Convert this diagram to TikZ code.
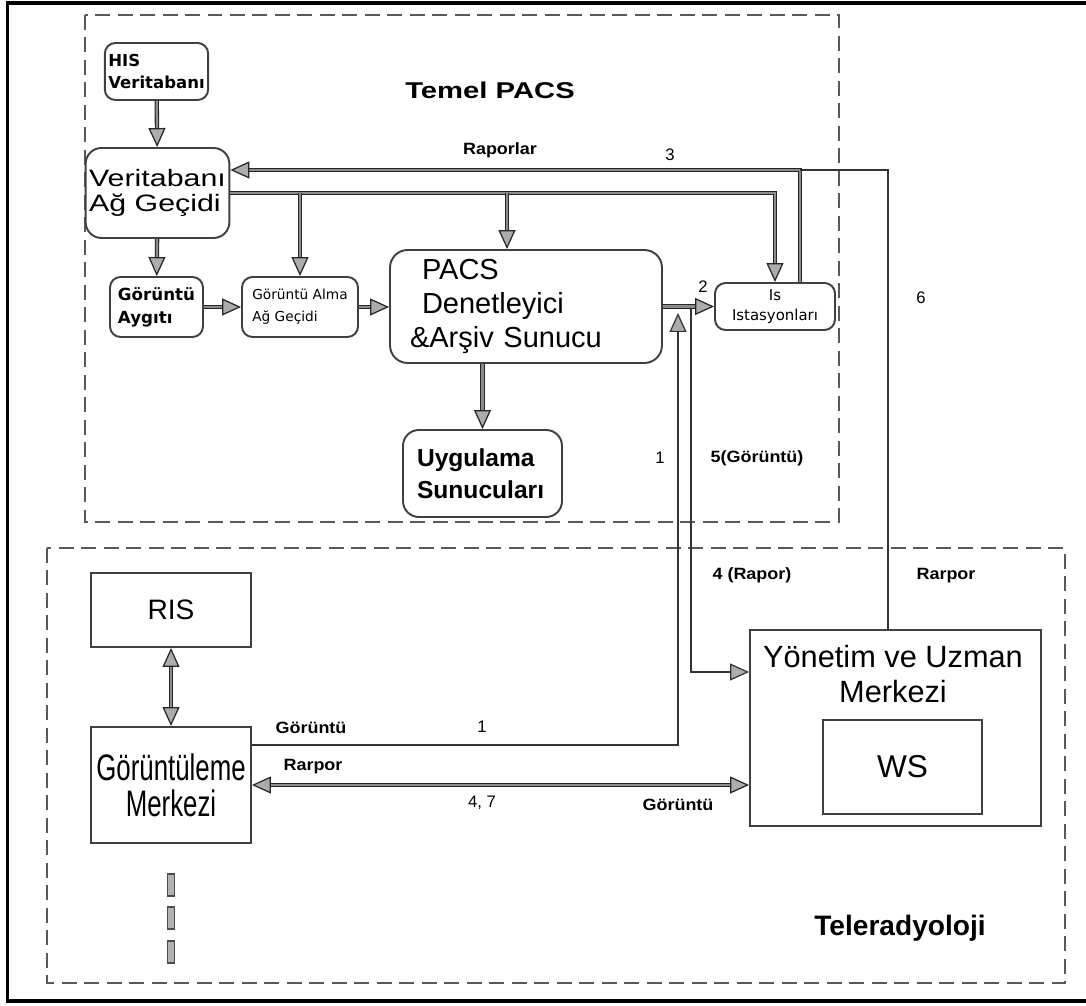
\documentclass[tikz,border=0pt]{standalone}
\usepackage{fontspec}
\setmainfont{Liberation Sans}
\newfontfamily\verdfont{DejaVu Sans}
\newfontfamily\widefont{Liberation Sans}[FakeStretch=1.28]
\newfontfamily\narrowfont{Liberation Sans}[FakeStretch=0.7]
\newfontfamily\labelfont{Liberation Sans}[FakeStretch=1.1]
\usetikzlibrary{
    positioning,
    arrows.meta,
    calc,
}
\tikzset{
    % Box styles
    rbox/.style={rectangle, draw=black!75, line width=1.1pt, rounded corners=6pt, inner sep=2pt},
    sbox/.style={rectangle, draw=black!75, line width=1.1pt, inner sep=2pt},
    % Line styles
    pipe/.style={-{Triangle[length=0.38cm, width=0.34cm, line width=0.7pt, fill=gray!65]},
                 draw=black!85, line width=0.6pt, double=black!45, double distance=0.045cm},
    both pipe/.style={pipe, {Triangle[length=0.38cm, width=0.34cm, line width=0.7pt, fill=gray!65]}-{Triangle[length=0.38cm, width=0.34cm, line width=0.7pt, fill=gray!65]}},
    wire/.style={draw=black!80, line width=0.045cm},
    wire arrow/.style={wire, -{Triangle[length=0.38cm, width=0.34cm, line width=0.7pt, fill=gray!65]}},
    % Annotation styles
    lbl/.style={font=\labelfont\bfseries\fontsize{9.3}{11}\selectfont, inner sep=0pt},
    num/.style={font=\fontsize{9.5}{11}\selectfont, inner sep=0pt},
}

\begin{document}
\begin{tikzpicture}[
    x=0.02cm, y=-0.02cm,
    outer frame/.style={draw=black, line width=0.08cm},
    zone/.style={draw=black!65, line width=0.035cm, dash pattern=on 0.3cm off 0.15cm},
]
    \useasboundingbox (0,0) rectangle (1086,1006);

    % Frame and zones
    \draw[outer frame] (1090,3.5) -- (7.5,3.5) -- (7.5,1001) -- (1090,1001);
    \draw[zone] (85,15) rectangle (839,522);
    \draw[zone] (47,548) rectangle (1065,983);
    \node[font=\widefont\bfseries\fontsize{13}{15}\selectfont] (pacstitle) at (490,90) {Temel PACS};
    \node[font=\bfseries\fontsize{16}{18}\selectfont] (teletitle) at (900,928) {Teleradyoloji};

    % Temel PACS
    \node[rbox, minimum width=2.06cm, minimum height=1.14cm, align=left,
          font=\verdfont\bfseries\fontsize{9.4}{12}\selectfont] (his) at (156.5,71.5) {HIS\\Veritabanı};
    \node[rbox, minimum width=2.82cm, minimum height=1.8cm, rounded corners=9pt, align=left,
          font=\widefont\fontsize{13.5}{14.5}\selectfont] (gateway) at (157.5,193) {Veritabanı\\Ağ Geçidi};
    \node[rbox, minimum width=1.86cm, minimum height=1.2cm, align=left,
          font=\verdfont\bfseries\fontsize{9.5}{13}\selectfont] (device) at (156.5,307) {Görüntü\\Aygıtı};
    \node[rbox, minimum width=2.32cm, minimum height=1.2cm, align=left,
          font=\verdfont\fontsize{7.8}{12.3}\selectfont] (acq) at (300,307) {Görüntü Alma\\Ağ Geçidi};
    \node[rbox, minimum width=5.44cm, minimum height=2.26cm, rounded corners=10pt, text width=4.64cm, align=left,
          font=\fontsize{16.5}{19.3}\selectfont] (pacs) at (526,306.5)
          {\hspace*{0.24cm}PACS\\\hspace*{0.24cm}Denetleyici\\\&Arşiv Sunucu};
    \node[rbox, minimum width=3.18cm, minimum height=1.74cm, rounded corners=9pt, text width=2.62cm, align=left,
          font=\bfseries\fontsize{14}{18}\selectfont] (apps) at (482.5,473.5) {Uygulama\\Sunucuları};
    \node[rbox, minimum width=2.4cm, minimum height=0.94cm, align=center,
          font=\verdfont\fontsize{8.5}{11.4}\selectfont] (stations) at (775,306.5) {Is\\Istasyonları};

    % Teleradyoloji
    \node[sbox, minimum width=3.2cm, minimum height=1.48cm, font=\fontsize{16}{18}\selectfont] (ris) at (171,610) {RIS};
    \node[sbox, minimum width=3.2cm, minimum height=2.32cm, align=center,
          font=\narrowfont\fontsize{21}{20.5}\selectfont] (imaging) at (171,785) {Görüntüleme\\Merkezi};
    \node[sbox, minimum width=5.82cm, minimum height=3.92cm] (expert) at (895.5,728) {};
    \node[anchor=north, inner sep=0pt, align=center, font=\fontsize{17.5}{20}\selectfont]
          (expertname) at (893,645) {Yönetim ve Uzman\\Merkezi};
    \node[sbox, minimum width=3.18cm, minimum height=1.88cm, font=\fontsize{18}{20}\selectfont] (wsbox) at (902.5,767) {WS};
    \foreach \y in {885,918,952}
        \draw[draw=black!70, fill=gray!60, line width=0.6pt] (167.5,\y-11) rectangle (174.5,\y+11);

    % Arrows inside PACS
    \draw[pipe] (his) -- (gateway);
    \draw[pipe] (gateway) -- (device);
    \draw[pipe] (device) -- (acq);
    \draw[pipe] (acq.east) -- (acq.east -| pacs.west);
    \draw[pipe] (pacs.south -| apps) -- (apps);
    \draw[pipe] (pacs.east |- stations) -- (stations);
    \draw[pipe] (gateway.east) -- (gateway.east -| stations) -- (stations);
    \draw[pipe] (gateway.east -| acq) -- (acq);
    \coordinate (pacsdrop) at (507,193);
    \draw[pipe] (pacsdrop) -- (pacsdrop |- pacs.north);

    % Reports back to the gateway
    \coordinate (rep) at (800,170);
    \coordinate (rep6) at (888,170);
    \draw[pipe] (rep |- stations.north) -- (rep) -- (rep -| gateway.east);
    \draw[wire] (rep6 |- expert.north) -- (rep6) -- (rep);

    % Links to teleradiology
    \coordinate (img1) at (678,745);
    \coordinate (tip1) at (678,313);
    \draw[wire arrow] (imaging.east |- img1) -- (img1) -- (tip1);
    \coordinate (top5) at (691,309);
    \coordinate (turn4) at (691,672);
    \draw[wire arrow] (top5) -- (turn4) -- (turn4 -| expert.west);
    \draw[both pipe] (imaging.east) -- (imaging.east -| expert.west);
    \draw[both pipe] (ris) -- (imaging);

    % Labels
    \node[lbl] (lraporlar) at (500,150) {Raporlar};
    \node[num] (l3) at (670,155) {3};
    \node[num] (l2) at (703,287) {2};
    \node[num] (l6) at (921,298) {6};
    \node[num] (l1a) at (660,458) {1};
    \node[lbl] (l5) at (757,458) {5(Görüntü)};
    \node[lbl] (l4) at (752,575) {4 (Rapor)};
    \node[lbl] (lrarpor1) at (946,576) {Rarpor};
    \node[lbl] (lgor1) at (311,728) {Görüntü};
    \node[num] (l1b) at (482,727) {1};
    \node[lbl] (lrarpor2) at (313,767) {Rarpor};
    \node[num] (l47) at (482,803) {4, 7};
    \node[lbl] (lgor2) at (678,805) {Görüntü};
\end{tikzpicture}
\end{document}
